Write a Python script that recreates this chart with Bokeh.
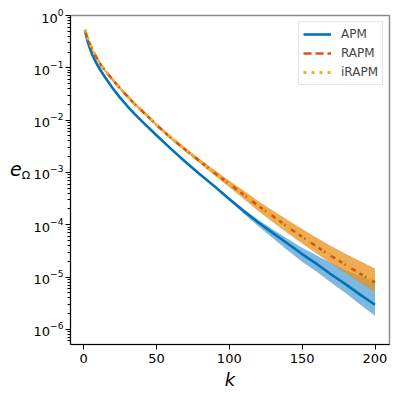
from bokeh.plotting import figure
from bokeh.models import Range1d, FixedTicker, Legend, LegendItem, Div
from bokeh.layouts import row
from bokeh.embed import file_html
from bokeh.resources import INLINE

# iteration index k
k = [1, 2, 3, 4, 6, 8, 10, 12, 15, 20, 25, 30, 35, 40, 50, 60, 70, 80, 90, 100,
     110, 120, 130, 140, 150, 160, 170, 180, 190, 200]

# error e_Omega (median curves)
apm = [0.513, 0.389, 0.309, 0.251, 0.178, 0.135, 0.107, 0.0871, 0.0646, 0.0407,
       0.0269, 0.0186, 0.0132, 9.55e-3, 5.13e-3, 2.82e-3, 1.58e-3, 9.12e-4, 5.37e-4,
       3.09e-4, 1.82e-4, 1.10e-4, 6.92e-5, 4.37e-5, 2.75e-5, 1.78e-5, 1.12e-5,
       7.24e-6, 4.57e-6, 2.95e-6]
rapm = [0.525, 0.427, 0.355, 0.302, 0.224, 0.174, 0.138, 0.112, 0.0871, 0.0589,
        0.0407, 0.0288, 0.0204, 0.0151, 8.13e-3, 4.57e-3, 2.69e-3, 1.62e-3, 9.77e-4,
        6.03e-4, 3.72e-4, 2.29e-4, 1.45e-4, 9.12e-5, 5.89e-5, 3.80e-5, 2.51e-5,
        1.70e-5, 1.15e-5, 7.94e-6]
irapm = [0.535, 0.435, 0.361, 0.307, 0.227, 0.176, 0.140, 0.113, 0.0880, 0.0594,
         0.0410, 0.0290, 0.0205, 0.0152, 8.18e-3, 4.60e-3, 2.70e-3, 1.62e-3, 9.80e-4,
         6.03e-4, 3.72e-4, 2.29e-4, 1.45e-4, 9.10e-5, 5.87e-5, 3.79e-5, 2.50e-5,
         1.69e-5, 1.15e-5, 7.90e-6]

# spread bands (lower / upper)
rapm_lo = [0.490, 0.398, 0.331, 0.282, 0.209, 0.162, 0.129, 0.105, 0.0813, 0.0550,
           0.0380, 0.0269, 0.0191, 0.0141, 7.59e-3, 4.27e-3, 2.48e-3, 1.48e-3, 8.71e-4,
           5.25e-4, 3.09e-4, 1.82e-4, 1.12e-4, 6.92e-5, 4.37e-5, 2.82e-5, 1.82e-5,
           1.20e-5, 7.76e-6, 5.25e-6]
rapm_hi = [0.562, 0.457, 0.380, 0.324, 0.240, 0.186, 0.148, 0.120, 0.0933, 0.0631,
           0.0437, 0.0309, 0.0219, 0.0162, 8.71e-3, 4.90e-3, 2.92e-3, 1.78e-3, 1.10e-3,
           6.92e-4, 4.47e-4, 2.82e-4, 1.86e-4, 1.23e-4, 8.32e-5, 5.62e-5, 3.89e-5,
           2.75e-5, 2.00e-5, 1.45e-5]
irapm_lo = [0.495, 0.402, 0.334, 0.284, 0.210, 0.163, 0.130, 0.106, 0.0820, 0.0554,
            0.0382, 0.0270, 0.0192, 0.0142, 7.62e-3, 4.29e-3, 2.49e-3, 1.49e-3, 8.75e-4,
            5.27e-4, 3.10e-4, 1.83e-4, 1.13e-4, 6.95e-5, 4.39e-5, 2.83e-5, 1.83e-5,
            1.21e-5, 7.80e-6, 5.30e-6]
irapm_hi = [0.570, 0.462, 0.384, 0.327, 0.242, 0.188, 0.149, 0.121, 0.0940, 0.0635,
            0.0440, 0.0311, 0.0220, 0.0163, 8.75e-3, 4.92e-3, 2.93e-3, 1.78e-3, 1.10e-3,
            6.90e-4, 4.45e-4, 2.80e-4, 1.85e-4, 1.22e-4, 8.28e-5, 5.60e-5, 3.87e-5,
            2.74e-5, 1.99e-5, 1.44e-5]
apm_band_k = [80, 90, 100, 110, 120, 130, 140, 150, 160, 170, 180, 190, 200]
apm_lo = [9.12e-4, 5.25e-4, 2.88e-4, 1.62e-4, 9.33e-5, 5.50e-5, 3.24e-5, 1.95e-5,
          1.26e-5, 7.76e-6, 4.90e-6, 2.95e-6, 1.82e-6]
apm_hi = [9.12e-4, 5.50e-4, 3.24e-4, 1.95e-4, 1.23e-4, 8.13e-5, 5.37e-5, 3.63e-5,
          2.57e-5, 1.86e-5, 1.35e-5, 1.05e-5, 8.13e-6]

x_ticks = [0, 50, 100, 150, 200]
y_ticks = [1e-6, 1e-5, 1e-4, 1e-3, 1e-2, 1e-1, 1e0]
y_minor = [m * t for t in [1e-7, 1e-6, 1e-5, 1e-4, 1e-3, 1e-2, 1e-1] for m in range(2, 10)]

BLUE = "#0072BD"
RED = "#D95319"
YEL = "#EDB120"
FONT = "DejaVu Sans"

p = figure(width=363, height=395, output_backend="svg", toolbar_location=None,
           y_axis_type="log",
           x_range=Range1d(-8.95, 209.95), y_range=Range1d(5.13e-7, 1.0),
           min_border_left=38, min_border_right=4, min_border_top=15, min_border_bottom=51)
p.background_fill_color = "white"
p.border_fill_color = "white"
p.outline_line_color = "#8a8a8a"
p.outline_line_width = 1.5
p.xgrid.visible = False
p.ygrid.visible = False

# bands
p.varea(x=apm_band_k, y1=apm_lo, y2=apm_hi, fill_color=BLUE, fill_alpha=0.5)
p.varea(x=k, y1=rapm_lo, y2=rapm_hi, fill_color=RED, fill_alpha=0.5)
p.varea(x=k, y1=irapm_lo, y2=irapm_hi, fill_color=YEL, fill_alpha=0.5)

# lines
r1 = p.line(k, apm, line_color=BLUE, line_width=2.6)
r2 = p.line(k, rapm, line_color=RED, line_width=2.6, line_dash="8 4")
r3 = p.line(k, irapm, line_color=YEL, line_width=2.8, line_dash="3 5")

# axes
p.xaxis.ticker = FixedTicker(ticks=x_ticks)
p.yaxis.ticker = FixedTicker(ticks=y_ticks, minor_ticks=y_minor)
for ax in (p.xaxis[0], p.yaxis[0]):
    ax.axis_line_color = "black"
    ax.axis_line_width = 1
    ax.major_tick_line_color = "black"
    ax.major_tick_in = 0
    ax.major_tick_out = 5
    ax.minor_tick_in = 0
    ax.minor_tick_out = 3
    ax.major_label_text_font = FONT
    ax.major_label_text_font_size = "13px"
    ax.major_label_text_color = "black"
p.xaxis.minor_tick_line_color = None
p.xaxis.major_label_standoff = 4
p.yaxis.major_label_standoff = 2
p.yaxis.minor_tick_line_color = "black"

p.xaxis.axis_label = "k"
p.xaxis.axis_label_text_font = FONT
p.xaxis.axis_label_text_font_style = "italic"
p.xaxis.axis_label_text_font_size = "18px"
p.xaxis.axis_label_text_color = "black"
p.xaxis.axis_label_standoff = 3

legend = Legend(items=[LegendItem(label="APM", renderers=[r1]),
                       LegendItem(label="RAPM", renderers=[r2]),
                       LegendItem(label="iRAPM", renderers=[r3])],
                location="top_right")
legend.margin = 6
legend.padding = 4
legend.spacing = 3
legend.glyph_width = 28
legend.glyph_height = 16
legend.label_height = 16
legend.label_standoff = 10
legend.label_text_font = FONT
legend.label_text_font_size = "12px"
legend.border_line_color = "#cccccc"
legend.border_line_width = 1
legend.background_fill_color = "white"
legend.background_fill_alpha = 0.8
p.add_layout(legend)

ylabel = Div(
    text=('<div style="padding-left:10px; padding-top:160px; line-height:19px; '
          'font-family:\'DejaVu Sans\'; color:black; white-space:nowrap;">'
          '<span style="font-style:italic; font-size:19px;">e</span>'
          '<span style="font-size:11px; vertical-align:-3px;">Ω</span></div>'),
    width=30, height=395, margin=(0, 0, 0, 0))

layout = row(ylabel, p, spacing=0)

open("out.html", "w").write(file_html(layout, INLINE))
